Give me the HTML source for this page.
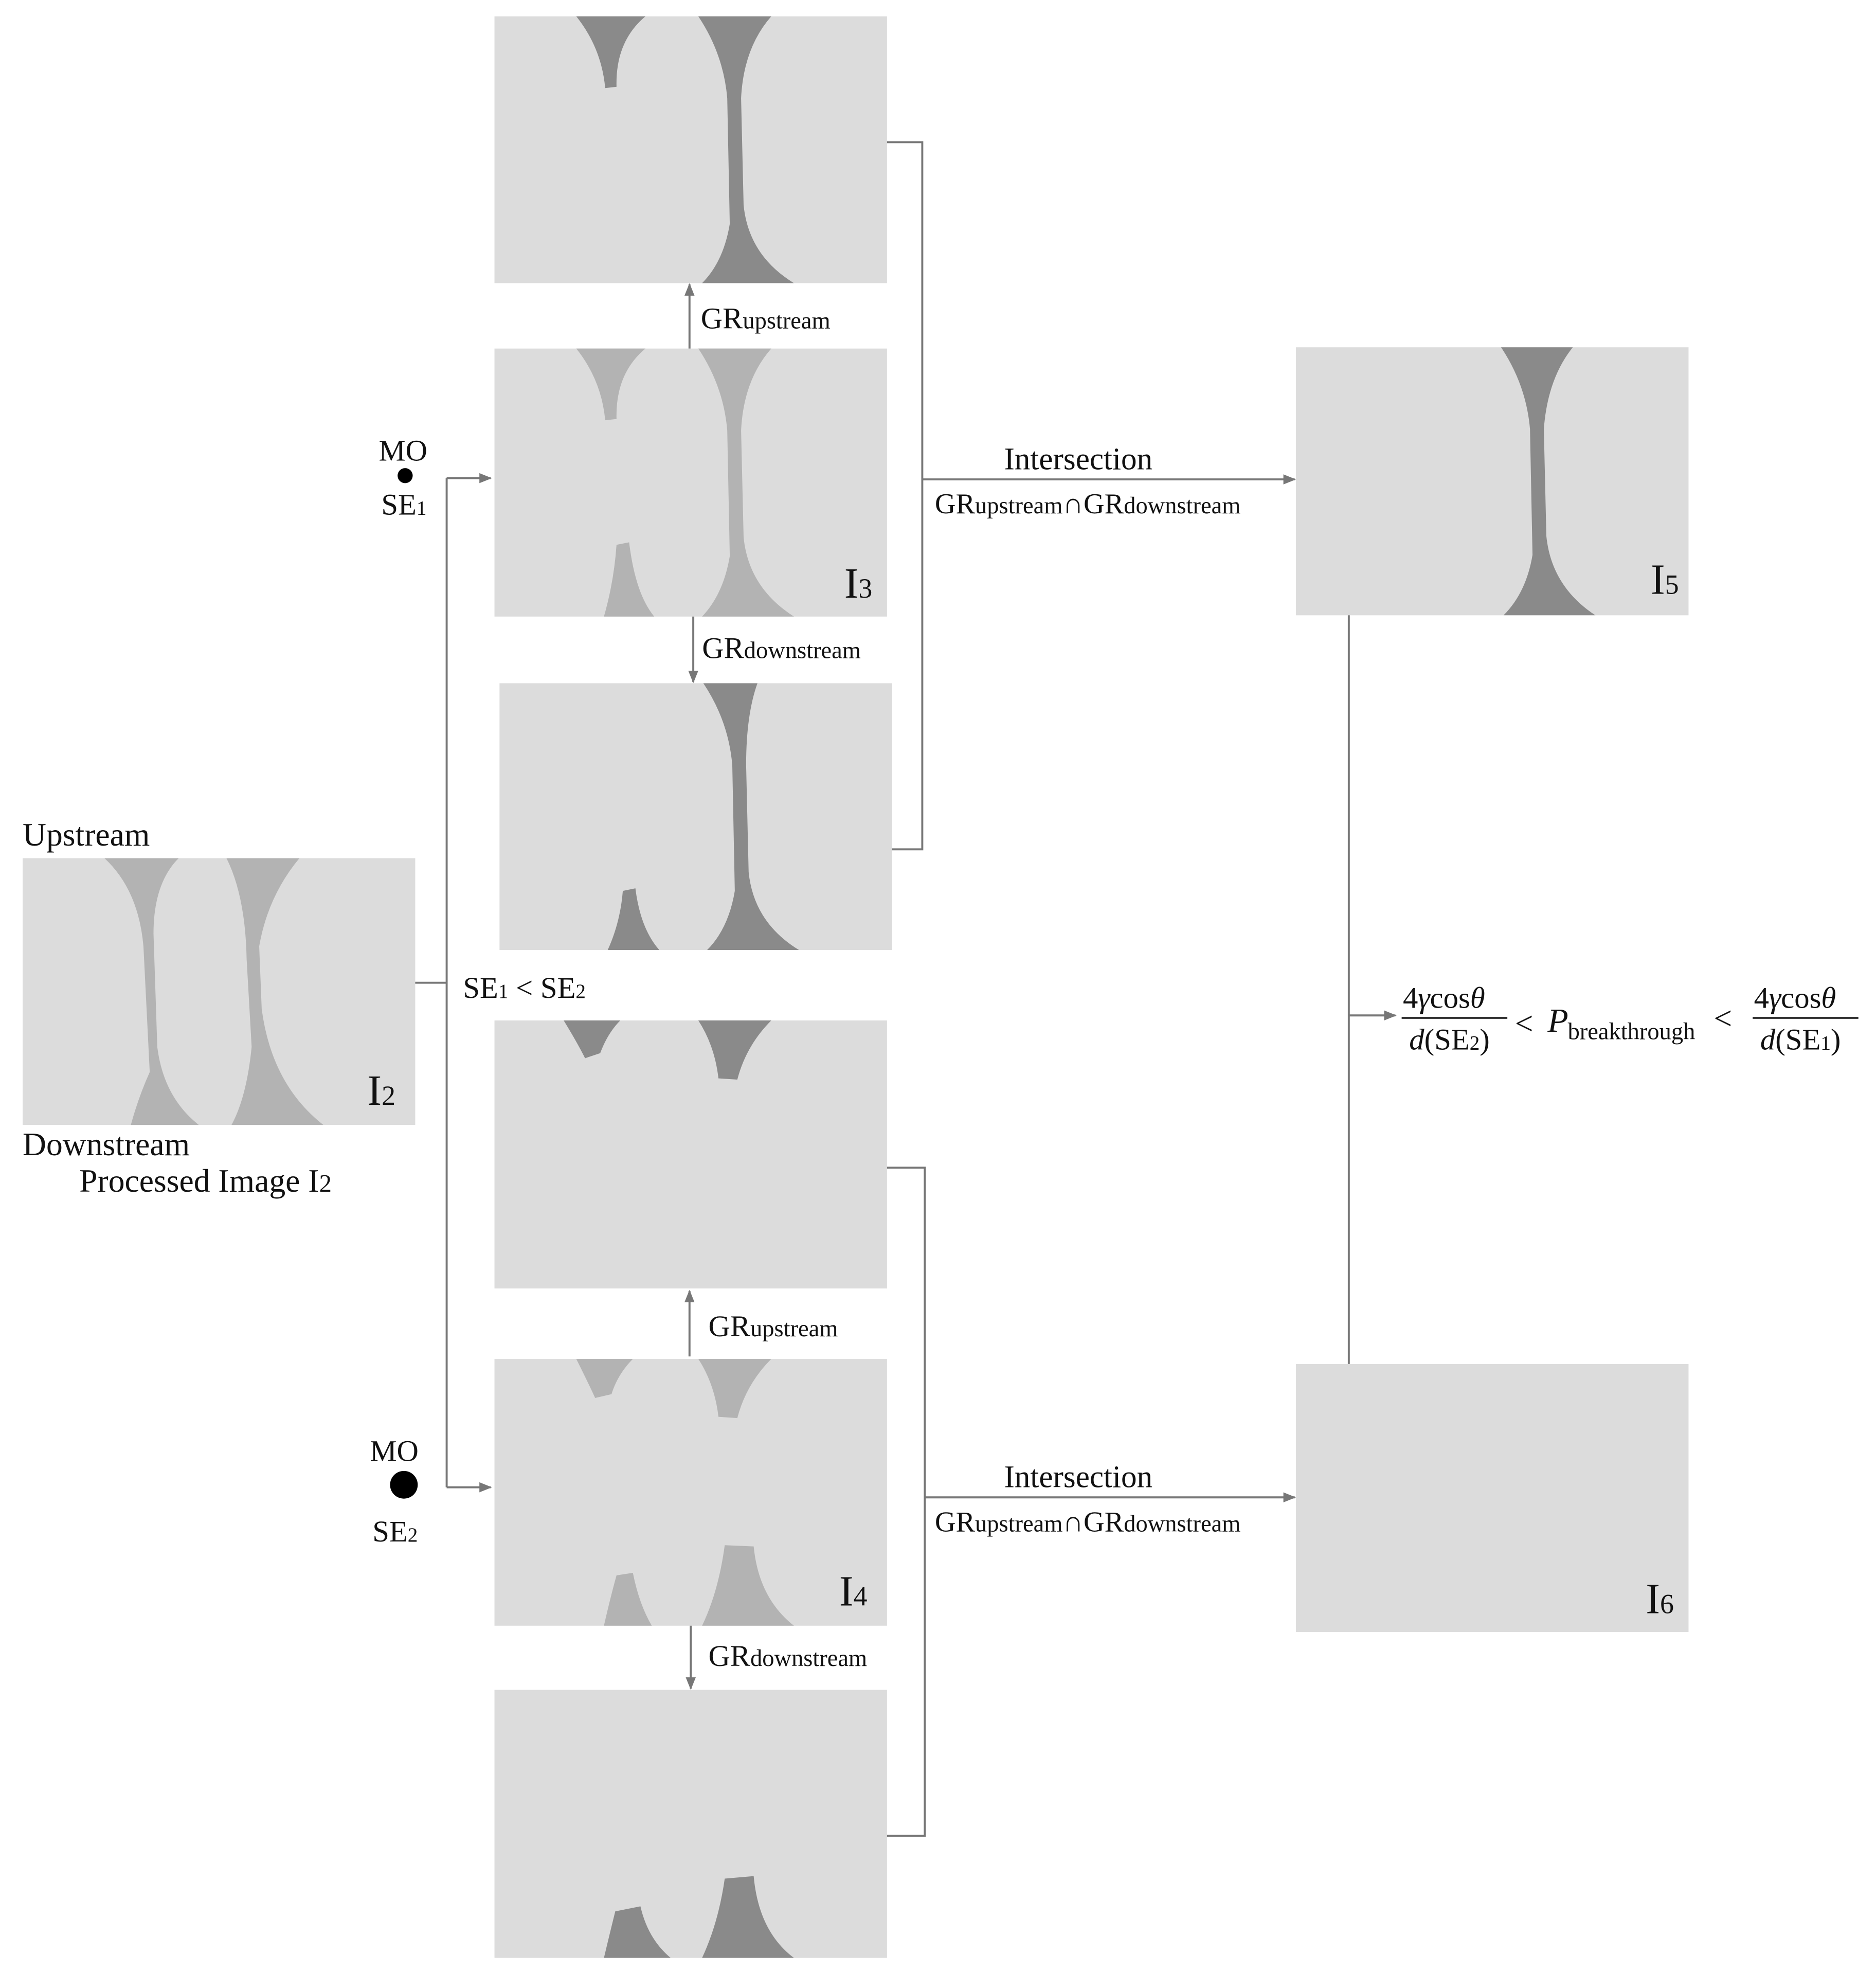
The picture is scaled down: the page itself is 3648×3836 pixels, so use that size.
<!DOCTYPE html>
<html><head><meta charset="utf-8"><style>
html,body{margin:0;padding:0;background:#fff}
svg{display:block}
text{font-family:"Liberation Serif",serif;fill:#111}
</style></head><body>
<svg width="3648" height="3836" viewBox="0 0 1491 1568" preserveAspectRatio="none" xmlns="http://www.w3.org/2000/svg">
<defs>
<marker id="ah" markerWidth="10" markerHeight="10" refX="9" refY="5" orient="auto" markerUnits="userSpaceOnUse">
<path d="M0,1 L10,5 L0,9 Z" fill="#777"/></marker>
</defs>
<rect width="1491" height="1568" fill="#fff"/>

<!-- Box A top -->
<g transform="translate(393,13)">
<rect width="312" height="212" fill="#dcdcdc"/>
<path d="M65,0 Q85,25 88,57 L97,56 Q96,20 120,0 Z" fill="#8a8a8a"/>
<path d="M162,0 Q182,30 185,65 L187,165 Q182,195 165,212 L238,212 Q202,190 198,150 L196,65 Q198,25 220,0 Z" fill="#8a8a8a"/>
</g>
<!-- I3 -->
<g transform="translate(393,277)">
<rect width="312" height="213" fill="#dcdcdc"/>
<path d="M65,0 Q85,25 88,57 L97,56 Q96,20 120,0 Z" fill="#b3b3b3"/>
<path d="M162,0 Q182,30 185,65 L187,165 Q182,195 165,213 L238,213 Q202,190 198,150 L196,65 Q198,25 220,0 Z" fill="#b3b3b3"/>
<path d="M97,156 L107,154 Q112,195 127,213 L87,213 Q95,185 97,156 Z" fill="#b3b3b3"/>
<text x="278" y="198" font-size="34">I<tspan font-size="22">3</tspan></text>
</g>
<!-- down box -->
<g transform="translate(397,543)">
<rect width="312" height="212" fill="#dcdcdc"/>
<path d="M162,0 Q182,30 185,65 L187,165 Q182,195 165,212 L238,212 Q202,190 198,150 L196,65 Q196,25 205,0 Z" fill="#8a8a8a"/>
<path d="M98,165 L108,163 Q112,195 127,212 L86,212 Q96,190 98,165 Z" fill="#8a8a8a"/>
</g>
<!-- I2 -->
<g transform="translate(18,682)">
<rect width="312" height="212" fill="#dcdcdc"/>
<path d="M65,0 Q92,25 96,70 L101,170 Q92,190 86,212 L140,212 Q112,190 107,150 L104,60 Q104,20 124,0 Z" fill="#b3b3b3"/>
<path d="M162,0 Q177,30 178,80 L182,150 Q178,190 166,212 L239,212 Q198,180 190,120 L188,70 Q195,30 220,0 Z" fill="#b3b3b3"/>
<text x="274" y="196" font-size="34">I<tspan font-size="22">2</tspan></text>
</g>
<!-- upper I4 -->
<g transform="translate(393,811)">
<rect width="312" height="213" fill="#dcdcdc"/>
<path d="M55,0 Q66,18 72,30 L84,26 Q90,10 100,0 Z" fill="#8a8a8a"/>
<path d="M162,0 Q175,20 178,46 L193,47 Q200,20 220,0 Z" fill="#8a8a8a"/>
</g>
<!-- I4 -->
<g transform="translate(393,1080)">
<rect width="312" height="212" fill="#dcdcdc"/>
<path d="M65,0 Q75,20 80,31 L93,28 Q98,12 110,0 Z" fill="#b3b3b3"/>
<path d="M162,0 Q175,20 178,46 L193,47 Q200,20 220,0 Z" fill="#b3b3b3"/>
<path d="M97,172 L110,170 Q115,195 125,212 L87,212 Q92,190 97,172 Z" fill="#b3b3b3"/>
<path d="M183,148 L206,149 Q210,190 238,212 L165,212 Q178,185 183,148 Z" fill="#b3b3b3"/>
<text x="274" y="196" font-size="34">I<tspan font-size="22">4</tspan></text>
</g>
<!-- bottom box -->
<g transform="translate(393,1343)">
<rect width="312" height="213" fill="#dcdcdc"/>
<path d="M96,176 L116,172 Q122,198 140,213 L87,213 Q92,192 96,176 Z" fill="#8a8a8a"/>
<path d="M183,150 L206,148 Q210,192 238,213 L165,213 Q178,185 183,150 Z" fill="#8a8a8a"/>
</g>
<!-- I5 -->
<g transform="translate(1030,276)">
<rect width="312" height="213" fill="#dcdcdc"/>
<path d="M163,0 Q183,30 186,65 L188,165 Q183,195 165,213 L238,213 Q203,190 199,150 L197,65 Q200,25 220,0 Z" fill="#8a8a8a"/>
<text x="282" y="196" font-size="34">I<tspan font-size="22">5</tspan></text>
</g>
<!-- I6 -->
<g transform="translate(1030,1084)">
<rect width="312" height="213" fill="#dcdcdc"/>
<text x="278" y="198" font-size="34">I<tspan font-size="22">6</tspan></text>
</g>

<!-- connectors -->
<g stroke="#777" stroke-width="1.6" fill="none">
<path d="M330,781 L355,781"/>
<path d="M355,380 L355,1182"/>
<path d="M355,380 L390,380" marker-end="url(#ah)"/>
<path d="M355,1182 L390,1182" marker-end="url(#ah)"/>
<path d="M548,277 L548,226" marker-end="url(#ah)"/>
<path d="M551,490 L551,542" marker-end="url(#ah)"/>
<path d="M705,113 L733,113 L733,675 L709,675"/>
<path d="M733,381 L1029,381" marker-end="url(#ah)"/>
<path d="M548,1078 L548,1026" marker-end="url(#ah)"/>
<path d="M549,1292 L549,1342" marker-end="url(#ah)"/>
<path d="M705,928 L735,928 L735,1459 L705,1459"/>
<path d="M735,1190 L1029,1190" marker-end="url(#ah)"/>
<path d="M1072,489 L1072,1084"/>
<path d="M1072,807 L1109,807" marker-end="url(#ah)"/>
</g>

<!-- labels -->
<text x="18" y="672" font-size="26">Upstream</text>
<text x="18" y="918" font-size="26">Downstream</text>
<text x="63" y="947" font-size="26">Processed Image I<tspan font-size="20">2</tspan></text>
<text x="301" y="366" font-size="24">MO</text>
<circle cx="322" cy="378" r="6" fill="#000"/>
<text x="303" y="409" font-size="24">SE<tspan font-size="16">1</tspan></text>
<text x="294" y="1161" font-size="24">MO</text>
<circle cx="321" cy="1180" r="11" fill="#000"/>
<text x="296" y="1225" font-size="24">SE<tspan font-size="16">2</tspan></text>
<text x="368" y="793" font-size="24">SE<tspan font-size="16">1</tspan> &lt; SE<tspan font-size="16">2</tspan></text>

<text x="557" y="261" font-size="24">GR<tspan font-size="19">upstream</tspan></text>
<text x="558" y="523" font-size="24">GR<tspan font-size="19">downstream</tspan></text>
<text x="563" y="1062" font-size="24">GR<tspan font-size="19">upstream</tspan></text>
<text x="563" y="1324" font-size="24">GR<tspan font-size="19">downstream</tspan></text>

<text x="798" y="373" font-size="25">Intersection</text>
<text x="743" y="408" font-size="23">GR<tspan font-size="19">upstream</tspan>∩GR<tspan font-size="19">downstream</tspan></text>
<text x="798" y="1182" font-size="25">Intersection</text>
<text x="743" y="1217" font-size="23">GR<tspan font-size="19">upstream</tspan>∩GR<tspan font-size="19">downstream</tspan></text>

<!-- formula -->
<text x="1115" y="801" font-size="24">4<tspan font-style="italic">γ</tspan>cos<tspan font-style="italic">θ</tspan></text>
<line x1="1114" y1="809" x2="1198" y2="809" stroke="#111" stroke-width="1.3"/>
<text x="1120" y="834" font-size="24"><tspan font-style="italic">d</tspan>(SE<tspan font-size="16">2</tspan>)</text>
<text x="1204" y="822" font-size="26">&lt;</text>
<text x="1230" y="820" font-size="27" font-style="italic">P</text>
<text x="1246" y="826" font-size="19">breakthrough</text>
<text x="1362" y="818" font-size="26">&lt;</text>
<text x="1394" y="801" font-size="24">4<tspan font-style="italic">γ</tspan>cos<tspan font-style="italic">θ</tspan></text>
<line x1="1393" y1="809" x2="1477" y2="809" stroke="#111" stroke-width="1.3"/>
<text x="1399" y="834" font-size="24"><tspan font-style="italic">d</tspan>(SE<tspan font-size="16">1</tspan>)</text>
</svg>
</body></html>
